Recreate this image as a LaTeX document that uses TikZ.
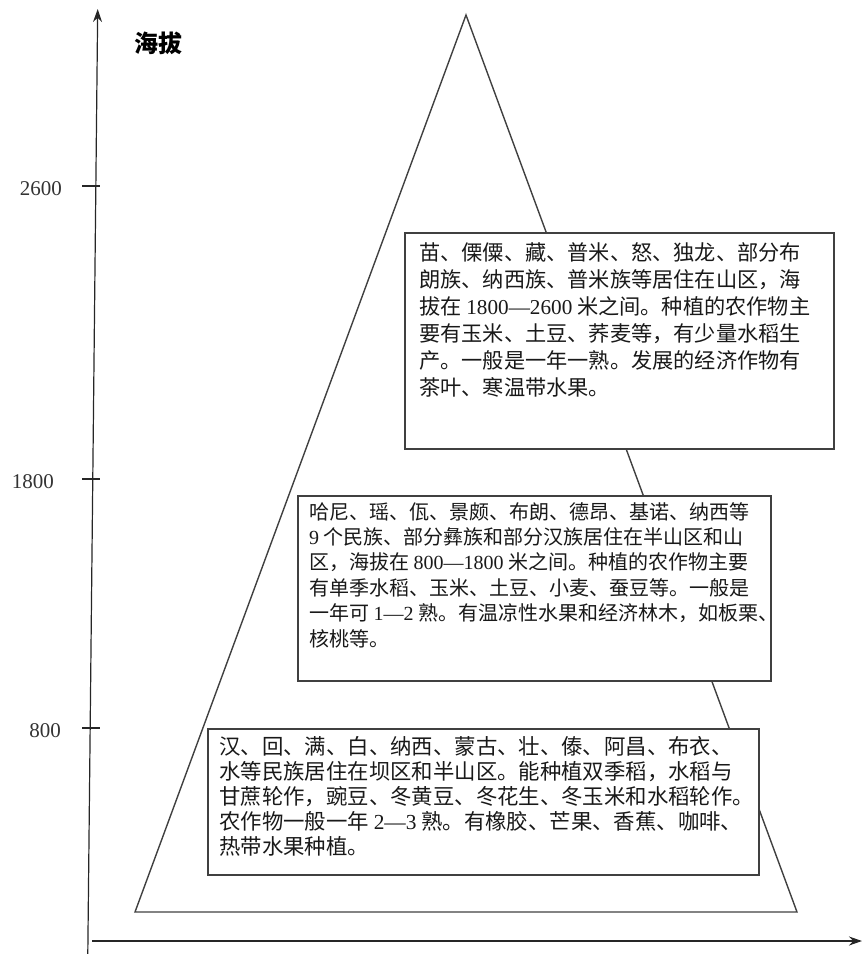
\documentclass[tikz,border=0pt]{standalone}
\usepackage{fontspec}
\setmainfont{Liberation Serif}
\newfontfamily\cjk{Noto Sans CJK SC}
\newfontfamily\numf{Liberation Serif}
\usetikzlibrary{arrows.meta}
\newcommand{\nm}[1]{{\numf #1}}
\begin{document}
\begin{tikzpicture}[x=1pt,y=-1pt,
  axisline/.style={line width=1.2pt, draw=black!85},
  tickline/.style={line width=1.1pt, draw=black!85},
  triline/.style={line width=1.4pt, draw=black!75},
  boxstyle/.style={draw=black!75, line width=1.5pt, fill=white, anchor=north west, inner sep=0pt},
  txt/.style={anchor=north west, inner sep=0pt, align=left, text=black!90},
  ticklabel/.style={anchor=east, inner sep=0pt, font=\fontsize{21}{24}\selectfont, text=black!80}
]
\useasboundingbox (0,0) rectangle (863,954);
% axes
\coordinate (ytop) at (97.7,9);
\coordinate (ybot) at (87.8,954);
\coordinate (xl) at (92,941);
\coordinate (xr) at (862,941);
\draw[axisline, -{Stealth[length=13pt,width=9pt]}] (ybot) -- (ytop);
\draw[axisline, -{Stealth[length=13pt,width=9pt]}] (xl) -- (xr);
% ticks
\coordinate (t26a) at (82,186); \coordinate (t26b) at (100,186);
\coordinate (t18a) at (82,479); \coordinate (t18b) at (100,479);
\coordinate (t8a) at (82,728); \coordinate (t8b) at (100,728);
\draw[tickline] (t26a) -- (t26b);
\draw[tickline] (t18a) -- (t18b);
\draw[tickline] (t8a) -- (t8b);
\node[ticklabel] (l26) at (62,189) {2600};
\node[ticklabel] (l18) at (54,482) {1800};
\node[ticklabel] (l8) at (61,731) {800};
\node[inner sep=0pt, font=\cjk\bfseries\fontsize{24}{26}\selectfont] (title) at (158,43) {海拔};
% triangle
\coordinate (apex) at (466,15);
\coordinate (bl) at (135,912);
\coordinate (br) at (797,912);
\draw[triline, line join=miter] (apex) -- (bl) -- (br) -- cycle;
% boxes
\node[boxstyle, minimum width=429pt, minimum height=216pt] (b1) at (404,232) {};
\node[txt, font=\cjk\fontsize{21.2}{27}\selectfont] (t1) at (419,242) {%
苗、傈僳、藏、普米、怒、独龙、部分布\\
朗族、纳西族、普米族等居住在山区，海\\
拔在 \nm{1800—2600} 米之间。种植的农作物主\\
要有玉米、土豆、荞麦等，有少量水稻生\\
产。一般是一年一熟。发展的经济作物有\\
茶叶、寒温带水果。};
\node[boxstyle, minimum width=473pt, minimum height=185pt] (b2) at (297,495) {};
\node[txt, font=\cjk\fontsize{20}{25.4}\selectfont] (t2) at (309,502) {%
哈尼、瑶、佤、景颇、布朗、德昂、基诺、纳西等\\
\nm{9} 个民族、部分彝族和部分汉族居住在半山区和山\\
区，海拔在 \nm{800—1800} 米之间。种植的农作物主要\\
有单季水稻、玉米、土豆、小麦、蚕豆等。一般是\\
一年可 \nm{1—2} 熟。有温凉性水果和经济林木，如板栗、\\
核桃等。};
\node[boxstyle, minimum width=551pt, minimum height=146pt] (b3) at (207,728) {};
\node[txt, font=\cjk\fontsize{21.4}{25}\selectfont] (t3) at (219,736) {%
汉、回、满、白、纳西、蒙古、壮、傣、阿昌、布衣、\\
水等民族居住在坝区和半山区。能种植双季稻，水稻与\\
甘蔗轮作，豌豆、冬黄豆、冬花生、冬玉米和水稻轮作。\\
农作物一般一年 \nm{2—3} 熟。有橡胶、芒果、香蕉、咖啡、\\
热带水果种植。};
\end{tikzpicture}
\end{document}
